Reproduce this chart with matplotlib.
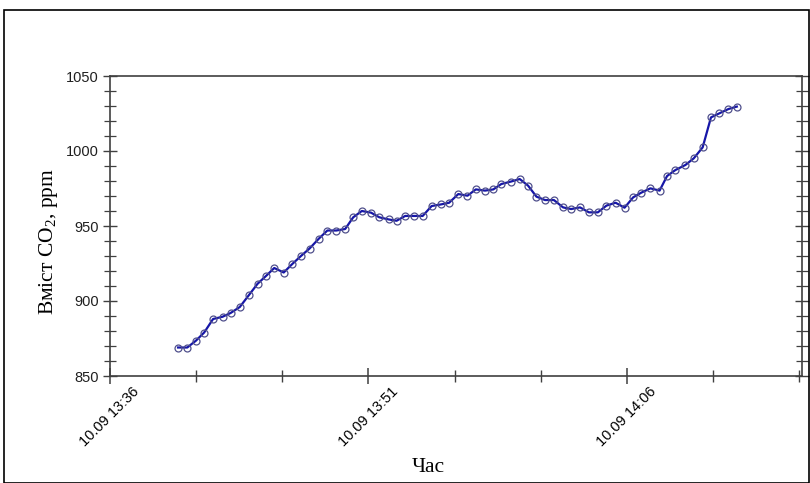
import pandas as pd
import matplotlib
matplotlib.use('Agg')
import matplotlib.pyplot as plt
import matplotlib.dates as mdates
from matplotlib.patches import Rectangle
from matplotlib.ticker import MultipleLocator

plt.rcParams['mathtext.fontset'] = 'custom'
plt.rcParams['mathtext.rm'] = 'Liberation Serif'

# Дані: час вимірювання і вміст CO2 (ppm)
times = ['13:39:57', '13:40:29', '13:40:59', '13:41:28', '13:41:59', '13:42:32', '13:43:00',
         '13:43:32', '13:44:04', '13:44:34', '13:45:05', '13:45:32', '13:46:05', '13:46:35',
         '13:47:05', '13:47:35', '13:48:07', '13:48:37', '13:49:08', '13:49:39', '13:50:07',
         '13:50:37', '13:51:09', '13:51:38', '13:52:10', '13:52:38', '13:53:08', '13:53:40',
         '13:54:09', '13:54:40', '13:55:13', '13:55:41', '13:56:13', '13:56:45', '13:57:14',
         '13:57:46', '13:58:15', '13:58:43', '13:59:16', '13:59:47', '14:00:16', '14:00:45',
         '14:01:15', '14:01:46', '14:02:18', '14:02:46', '14:03:17', '14:03:48', '14:04:19',
         '14:04:49', '14:05:21', '14:05:52', '14:06:22', '14:06:50', '14:07:22', '14:07:54',
         '14:08:20', '14:08:49', '14:09:24', '14:09:53', '14:10:24', '14:10:53', '14:11:22',
         '14:11:54', '14:12:23']
co2 = [869, 869, 873.5, 879, 888, 889.5, 892, 896, 904, 911.5, 917, 922, 919, 924.7,
       930, 935, 941.5, 947, 947, 948, 955.8, 960, 958.9, 955.8, 954.4, 953.5, 956.7,
       956.7, 956.7, 963.3, 964.4, 965.5, 971.3, 970.2, 974.4, 973.6, 974.4, 978, 979.6,
       981.3, 976.9, 969.6, 967.3, 967.3, 962.4, 961.3, 962.4, 959.1, 959.1, 963.6, 965.5,
       962.2, 969.1, 972.2, 975.1, 973.6, 983.3, 987.3, 990.7, 995.1, 1002.4, 1022.4,
       1025.1, 1028, 1029.6]

t = pd.to_datetime(['2023-09-10 ' + s for s in times])
x_start = pd.Timestamp('2023-09-10 13:36:00')
x_end = pd.Timestamp('2023-09-10 14:16:10')

fig = plt.figure(figsize=(8.1, 4.83), dpi=100)
ax = fig.add_axes([110 / 810, 107 / 483, 692 / 810, 300 / 483])

# рамка навколо всього рисунка
fig.patches.append(Rectangle((4 / 810, 0.5 / 483), 804.5 / 810, 473 / 483,
                             transform=fig.transFigure, fill=False,
                             edgecolor='black', linewidth=1.2))

ax.plot(t, co2, color='#1616a8', linewidth=1.6, marker='o', markersize=5,
        markerfacecolor='none', markeredgecolor='#50508c', markeredgewidth=0.9)

ax.set_xlim(x_start, x_end)
ax.set_ylim(850, 1050)

ax.xaxis.set_major_locator(mdates.MinuteLocator(byminute=[6, 21, 36, 51]))
ax.xaxis.set_minor_locator(mdates.MinuteLocator(byminute=range(1, 60, 5)))
ax.xaxis.set_major_formatter(mdates.DateFormatter('%d.%m %H:%M'))
ax.yaxis.set_major_locator(MultipleLocator(50))
ax.yaxis.set_minor_locator(MultipleLocator(10))

for sp in ax.spines.values():
    sp.set_color('#404040')
    sp.set_linewidth(1.2)

ax.tick_params(axis='x', which='major', direction='inout', length=12, width=1.1,
               color='#404040', labelsize=10.5, pad=0)
ax.tick_params(axis='x', which='minor', direction='inout', length=8, width=1.0,
               color='#404040')
ax.tick_params(axis='y', which='major', direction='inout', length=10, width=1.0,
               color='#404040', labelsize=10.5, pad=3, right=True)
ax.tick_params(axis='y', which='minor', direction='inout', length=8, width=0.9,
               color='#404040', right=True)

for lbl in ax.get_xticklabels():
    lbl.set_rotation(45)
    lbl.set_ha('center')
    lbl.set_fontfamily('Liberation Sans')
for lbl in ax.get_yticklabels():
    lbl.set_fontfamily('Liberation Sans')
    lbl.set_color('#202020')

ax.set_ylabel('Вміст CO$_2$, ppm', fontfamily='Liberation Serif', fontsize=15.5)
ax.yaxis.set_label_coords(-0.072, 0.447)
ax.set_xlabel('Час', fontfamily='Liberation Serif', fontsize=15.5)
ax.xaxis.set_label_coords(0.46, -0.272)

fig.savefig('out.png', dpi=100)
